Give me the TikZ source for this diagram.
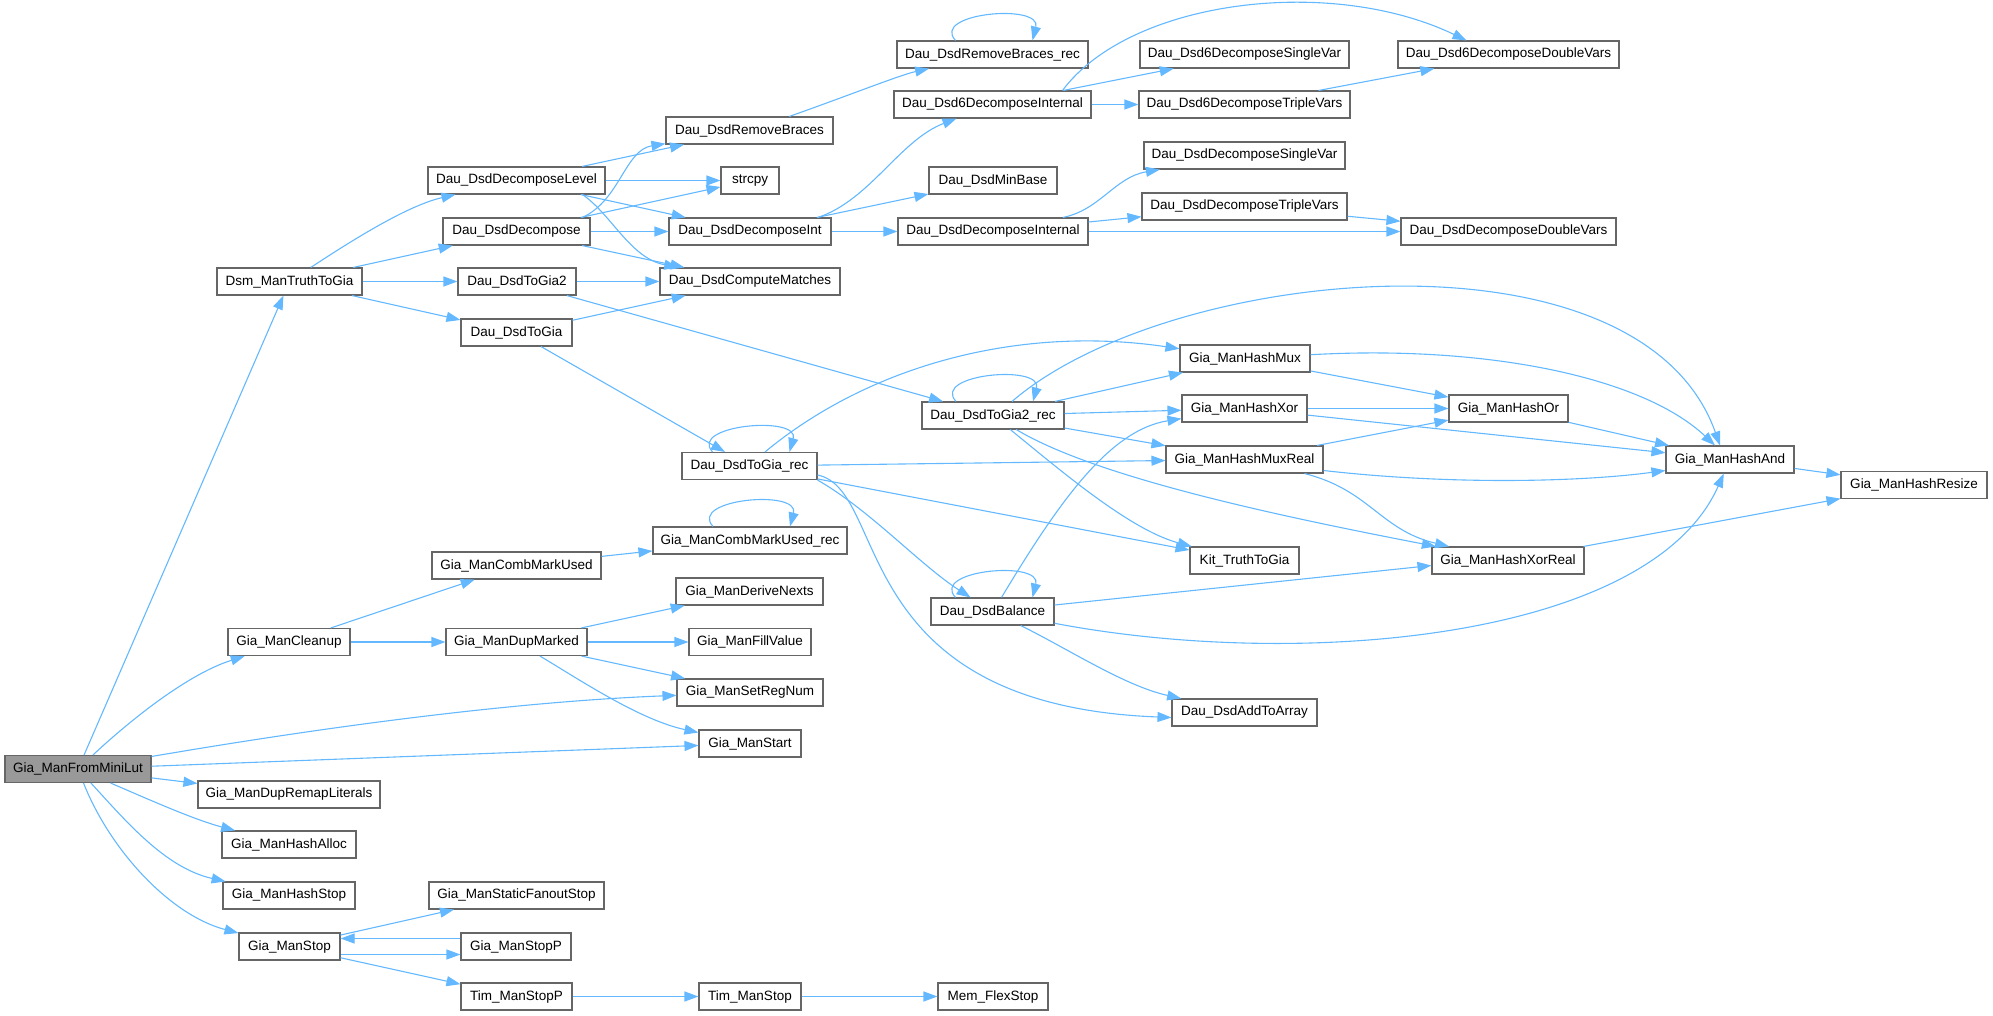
\documentclass[tikz,border=0pt]{standalone}
\usepackage{fontspec}
\setmainfont{Liberation Sans}
\usepackage{tikz}
\usetikzlibrary{arrows.meta}
\definecolor{EdgeBlue}{HTML}{63B8FF}
\definecolor{BoxGrey}{HTML}{666666}
\definecolor{RootGrey}{HTML}{999999}
\tikzset{
  fnbox/.style={rectangle, draw=BoxGrey, fill=white, line width=1.1pt,
                 minimum width=#1pt, minimum height=27pt, inner sep=0pt,
                 font=\fontsize{13.5}{15}\selectfont, text=black, align=center},
}
\begin{document}
\begin{tikzpicture}[
        x=1pt, y=-1pt,
        call/.style={-{Triangle[length=14pt,width=10pt]}, line width=1.1pt, color=EdgeBlue},
      ]
        \useasboundingbox (0,0) rectangle (1993,1016);
        % root and first level
        \node[fnbox=146, fill=RootGrey] (fromminilut) at (78,769) {Gia\_ManFromMiniLut};
        \node[fnbox=145] (truthtogia) at (289.5,281.5) {Dsm\_ManTruthToGia};
        \node[fnbox=122] (cleanup) at (289,642) {Gia\_ManCleanup};
        \node[fnbox=182] (remaplits) at (289,794.5) {Gia\_ManDupRemapLiterals};
        \node[fnbox=134] (hashalloc) at (289,844.5) {Gia\_ManHashAlloc};
        \node[fnbox=132] (hashstop) at (289,895.5) {Gia\_ManHashStop};
        \node[fnbox=101] (manstop) at (289.5,946.5) {Gia\_ManStop};
        % second level
        \node[fnbox=177] (declevel) at (516.5,180.5) {Dau\_DsdDecomposeLevel};
        \node[fnbox=147] (decomp) at (516.5,231.5) {Dau\_DsdDecompose};
        \node[fnbox=118] (togiatwo) at (517,281.5) {Dau\_DsdToGia2};
        \node[fnbox=111] (togia) at (516.5,332.5) {Dau\_DsdToGia};
        \node[fnbox=169] (combmark) at (516.5,565.5) {Gia\_ManCombMarkUsed};
        \node[fnbox=141] (dupmarked) at (516.5,642) {Gia\_ManDupMarked};
        \node[fnbox=175] (fanoutstop) at (516.5,895.5) {Gia\_ManStaticFanoutStop};
        \node[fnbox=110] (manstopp) at (516,946.5) {Gia\_ManStopP};
        \node[fnbox=111] (timstopp) at (516.5,996.5) {Tim\_ManStopP};
        % third level
        \node[fnbox=167] (rembraces) at (749.5,130.5) {Dau\_DsdRemoveBraces};
        \node[fnbox=58] (strcpy) at (750,180.5) {strcpy};
        \node[fnbox=162] (decint) at (750,231.5) {Dau\_DsdDecomposeInt};
        \node[fnbox=180] (compmatch) at (750,281.5) {Dau\_DsdComputeMatches};
        \node[fnbox=135] (togiarec) at (749.5,466) {Dau\_DsdToGia\_rec};
        \node[fnbox=194] (combmarkrec) at (750,540.5) {Gia\_ManCombMarkUsed\_rec};
        \node[fnbox=147] (derivenexts) at (749.5,591.5) {Gia\_ManDeriveNexts};
        \node[fnbox=122] (fillvalue) at (750,642) {Gia\_ManFillValue};
        \node[fnbox=146] (setregnum) at (750,692.5) {Gia\_ManSetRegNum};
        \node[fnbox=102] (manstart) at (750,743.5) {Gia\_ManStart};
        \node[fnbox=102] (timstop) at (750,996.5) {Tim\_ManStop};
        % fourth level
        \node[fnbox=191] (rembracesrec) at (992.5,54.5) {Dau\_DsdRemoveBraces\_rec};
        \node[fnbox=197] (sixint) at (992.5,104.5) {Dau\_Dsd6DecomposeInternal};
        \node[fnbox=128] (minbase) at (993,180.5) {Dau\_DsdMinBase};
        \node[fnbox=190] (decinternal) at (993,231.5) {Dau\_DsdDecomposeInternal};
        \node[fnbox=142] (togiatworec) at (993,415.5) {Dau\_DsdToGia2\_rec};
        \node[fnbox=123] (balance) at (992.5,611.5) {Dau\_DsdBalance};
        \node[fnbox=110] (flexstop) at (993,996.5) {Mem\_FlexStop};
        % fifth level
        \node[fnbox=209] (sixsingle) at (1244.5,54.5) {Dau\_Dsd6DecomposeSingleVar};
        \node[fnbox=211] (sixtriple) at (1244.5,104.5) {Dau\_Dsd6DecomposeTripleVars};
        \node[fnbox=201] (decsingle) at (1244.5,155.5) {Dau\_DsdDecomposeSingleVar};
        \node[fnbox=205] (dectriple) at (1244.5,206.5) {Dau\_DsdDecomposeTripleVars};
        \node[fnbox=130] (hashmux) at (1245,358.5) {Gia\_ManHashMux};
        \node[fnbox=125] (hashxor) at (1244.5,408.5) {Gia\_ManHashXor};
        \node[fnbox=157] (hashmuxreal) at (1244.5,459.5) {Gia\_ManHashMuxReal};
        \node[fnbox=109] (kittruth) at (1244.5,560.5) {Kit\_TruthToGia};
        \node[fnbox=145] (addtoarray) at (1244.5,712.5) {Dau\_DsdAddToArray};
        % last levels
        \node[fnbox=221] (sixdouble) at (1508.5,54.5) {Dau\_Dsd6DecomposeDoubleVars};
        \node[fnbox=215] (decdouble) at (1508.5,231.5) {Dau\_DsdDecomposeDoubleVars};
        \node[fnbox=119] (hashor) at (1508.5,408.5) {Gia\_ManHashOr};
        \node[fnbox=152] (hashxorreal) at (1508,560.5) {Gia\_ManHashXorReal};
        \node[fnbox=128] (hashand) at (1730,459.5) {Gia\_ManHashAnd};
        \node[fnbox=146] (hashresize) at (1914,485) {Gia\_ManHashResize};

        % Gia_ManFromMiniLut calls
        \draw[call] (fromminilut) -- (truthtogia);
        \draw[call] (fromminilut) .. controls (125,725) and (185,675) .. (cleanup);
        \draw[call] (fromminilut) .. controls (260,738) and (480,703) .. (setregnum);
        \draw[call] (fromminilut) -- (manstart);
        \draw[call] (fromminilut) -- (remaplits);
        \draw[call] (fromminilut) .. controls (150,800) and (195,820) .. (hashalloc);
        \draw[call] (fromminilut) .. controls (125,820) and (165,868) .. (hashstop);
        \draw[call] (fromminilut) .. controls (110,850) and (170,915) .. (manstop);
        % Dsm_ManTruthToGia calls
        \draw[call] (truthtogia) .. controls (360,235) and (410,205) .. (declevel);
        \draw[call] (truthtogia) -- (decomp);
        \draw[call] (truthtogia) -- (togiatwo);
        \draw[call] (truthtogia) -- (togia);
        \draw[call] (declevel) -- (rembraces);
        \draw[call] (declevel) -- (strcpy);
        \draw[call] (declevel) -- (decint);
        \draw[call] ([xshift=66pt]declevel.south) .. controls (612,215) and (630,258) .. (compmatch);
        \draw[call] ([xshift=66pt]decomp.north) .. controls (620,200) and (625,150) .. (rembraces);
        \draw[call] (decomp) -- (strcpy);
        \draw[call] (decomp) -- (decint);
        \draw[call] (decomp) -- (compmatch);
        \draw[call] (togiatwo) -- (compmatch);
        \draw[call] (togiatwo) -- (togiatworec);
        \draw[call] (togia) -- (compmatch);
        \draw[call] (togia) -- (togiarec);
        % brace removal and decomposition
        \draw[call] (rembraces) .. controls (850,95) and (900,75) .. (rembracesrec);
        \draw[call] ([xshift=-37pt]rembracesrec.north) .. controls (930,13) and (1042,3) .. ([xshift=40pt]rembracesrec.north);
        \draw[call] ([xshift=68pt]decint.north) .. controls (870,200) and (900,140) .. ([xshift=-36pt]sixint.south);
        \draw[call] (decint) -- (minbase);
        \draw[call] (decint) -- (decinternal);
        \draw[call] ([xshift=70pt]sixint.north) .. controls (1130,0) and (1330,-25) .. ([xshift=-42pt]sixdouble.north);
        \draw[call] (sixint) -- (sixsingle);
        \draw[call] (sixint) -- (sixtriple);
        \draw[call] (sixtriple) -- (sixdouble);
        \draw[call] (decinternal) .. controls (1100,210) and (1115,177) .. (decsingle);
        \draw[call] (decinternal) -- (dectriple);
        \draw[call] (decinternal) -- (decdouble);
        \draw[call] (dectriple) -- (decdouble);
        % Dau_DsdToGia_rec calls
        \draw[call] ([xshift=-37pt]togiarec.north) .. controls (688,425) and (800,415) .. ([xshift=40pt]togiarec.north);
        \draw[call] ([xshift=15.5pt]togiarec.north) .. controls (870,365) and (1020,325) .. (hashmux);
        \draw[call] (togiarec) -- (hashmuxreal);
        \draw[call] (togiarec) -- (kittruth);
        \draw[call] (togiarec.south east) .. controls (870,510) and (920,565) .. (balance);
        \draw[call] ([yshift=-9pt]togiarec.east) .. controls (890,490) and (845,705) .. ([yshift=-5pt]addtoarray.west);
        % Dau_DsdToGia2_rec calls
        \draw[call] ([xshift=-37pt]togiatworec.north) .. controls (931,374) and (1043,364) .. ([xshift=40pt]togiatworec.north);
        \draw[call] (togiatworec) -- (hashmux);
        \draw[call] (togiatworec) -- (hashxor);
        \draw[call] (togiatworec) -- (hashmuxreal);
        \draw[call] (togiatworec) .. controls (1060,470) and (1130,530) .. (kittruth);
        \draw[call] (togiatworec) .. controls (1100,480) and (1300,520) .. (hashxorreal);
        \draw[call] ([xshift=19pt]togiatworec.north) .. controls (1170,265) and (1640,220) .. ([xshift=-10pt]hashand.north);
        % Dau_DsdBalance calls
        \draw[call] ([xshift=-37pt]balance.north) .. controls (930,570) and (1042,560) .. ([xshift=40pt]balance.north);
        \draw[call] ([xshift=9pt]balance.north) .. controls (1060,500) and (1110,430) .. (hashxor);
        \draw[call] (balance) -- ([yshift=-5pt]hashxorreal.west);
        \draw[call] (balance) .. controls (1300,670) and (1650,640) .. (hashand);
        \draw[call] (balance) .. controls (1070,650) and (1125,686) .. (addtoarray);
        % hashing
        \draw[call] (hashmux) -- (hashor);
        \draw[call] (hashmux) .. controls (1480,345) and (1640,375) .. (hashand);
        \draw[call] (hashxor) -- (hashor);
        \draw[call] (hashxor) -- (hashand);
        \draw[call] (hashmuxreal) -- (hashor);
        \draw[call] ([yshift=-11pt]hashmuxreal.east) .. controls (1450,485) and (1580,482) .. ([yshift=-11pt]hashand.west);
        \draw[call] ([xshift=60pt]hashmuxreal.south) .. controls (1370,490) and (1380,530) .. (hashxorreal);
        \draw[call] (hashor) -- (hashand);
        \draw[call] (hashand) -- (hashresize);
        \draw[call] (hashxorreal) -- (hashresize);
        % Gia_ManCleanup calls
        \draw[call] (cleanup) -- (combmark);
        \draw[call] (cleanup) -- (dupmarked);
        \draw[call] (combmark) -- (combmarkrec);
        \draw[call] ([xshift=-37pt]combmarkrec.north) .. controls (688,499) and (800,489) .. ([xshift=40pt]combmarkrec.north);
        \draw[call] (dupmarked) -- (derivenexts);
        \draw[call] (dupmarked) -- (fillvalue);
        \draw[call] (dupmarked) -- (setregnum);
        \draw[call] (dupmarked) .. controls (580,680) and (640,720) .. (manstart);
        % Gia_ManStop calls
        \draw[call] (manstop) -- (fanoutstop);
        \draw[call] ([yshift=-8pt]manstop.east) -- ([yshift=-8pt]manstopp.west);
        \draw[call] ([yshift=8pt]manstopp.west) -- ([yshift=8pt]manstop.east);
        \draw[call] (manstop) -- (timstopp);
        \draw[call] (timstopp) -- (timstop);
        \draw[call] (timstop) -- (flexstop);
      \end{tikzpicture}
\end{document}
